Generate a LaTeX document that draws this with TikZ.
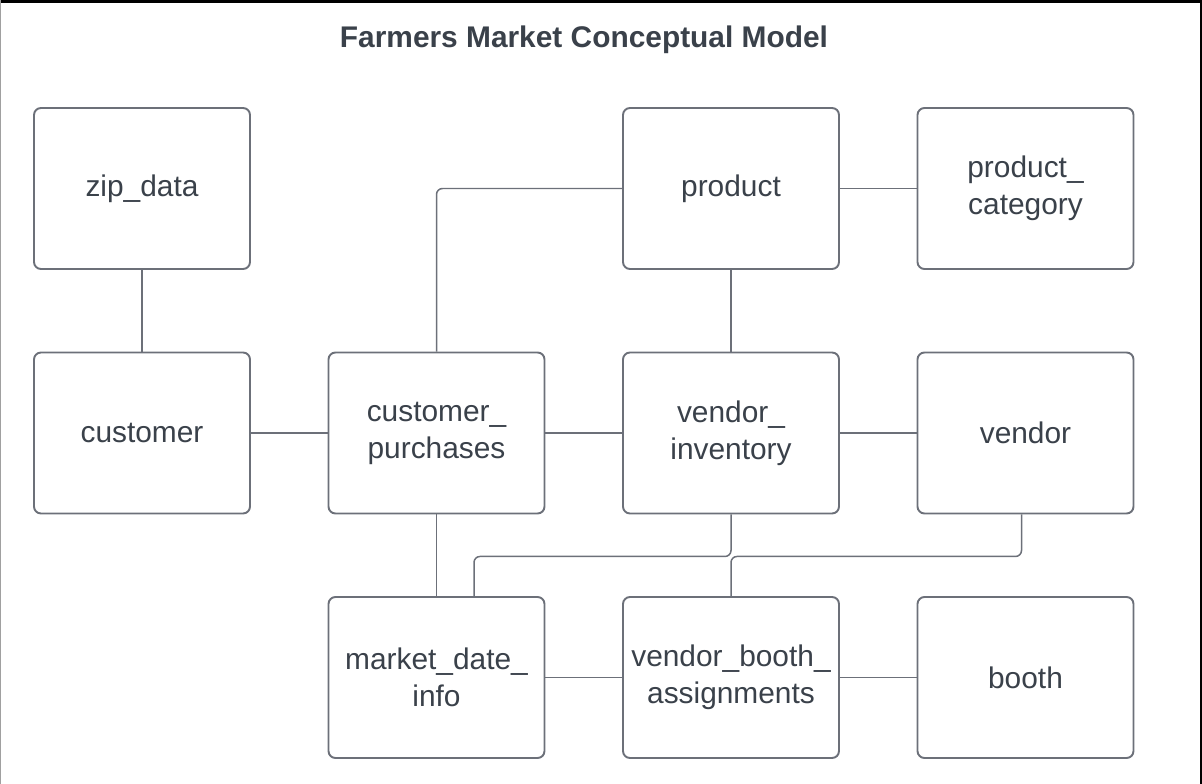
\documentclass[tikz,border=0pt]{standalone}
\usepackage{fontspec}
\setmainfont{Liberation Sans}
\usepackage{xcolor}
\usetikzlibrary{positioning}
\definecolor{inkgray}{HTML}{3A414A}
\definecolor{edgegray}{HTML}{6C7079}
\definecolor{framegray}{HTML}{A0A0A0}
\tikzstyle{entity} = [rectangle, rounded corners=0.14cm, minimum width=4.32cm, minimum height=3.22cm, inner sep=1pt, align=center, draw=edgegray, line width=1.1pt, text=inkgray, font=\fontsize{17}{21}\selectfont]
\tikzstyle{link} = [draw=edgegray, line width=0.85pt, rounded corners=0.12cm]

\begin{document}
\begin{tikzpicture}[node distance=5.89 cm]
                            \useasboundingbox (0,0) rectangle (24.04,-15.68);
                            \fill [black] (0,0) rectangle (24.04,-0.06);
                            \fill [black] (24.0,0) rectangle (24.04,-15.68);
                            \fill [framegray] (0,0) rectangle (0.02,-15.68);
                            \node (title) [text=inkgray, font=\fontsize{17}{21}\selectfont\bfseries] at (11.68,-0.8) {Farmers Market Conceptual Model};
                            \node (zip) [entity] at (2.84,-3.77) {zip\_data};
                            \node (cust) [entity, below of = zip, yshift=1 cm] {customer};
                            \node (cp) [entity, right of = cust] {customer\_\\purchases};
                            \node (vi) [entity, right of = cp] {vendor\_\\inventory};
                            \node (vend) [entity, right of = vi] {vendor};
                            \node (prod) [entity, above of = vi, yshift=-1 cm] {product};
                            \node (pc) [entity, right of = prod] {product\_\\category};
                            \node (mdi) [entity, below of = cp, yshift=1 cm] {market\_date\_\\info};
                            \node (vba) [entity, right of = mdi] {vendor\_booth\_\\assignments};
                            \node (booth) [entity, right of = vba] {booth};
                            \draw [link] (zip) -- (cust);
                            \draw [link] (cust) -- (cp);
                            \draw [link] (cp) -- (vi);
                            \draw [link] (vi) -- (vend);
                            \draw [link] (prod) -- (pc);
                            \draw [link] (prod) -- (vi);
                            \draw [link] (cp.north) |- (prod.west);
                            \draw [link] (cp) -- (mdi);
                            \draw [link] (mdi) -- (vba);
                            \draw [link] (vba) -- (booth);
                            \draw [link] (vi.south) -- ++(0,-0.84) -| ([xshift=0.75 cm]mdi.north);
                            \draw [link] ([xshift=-0.08 cm]vend.south) -- ++(0,-0.84) -| (vba.north);
                        \end{tikzpicture}
\end{document}
